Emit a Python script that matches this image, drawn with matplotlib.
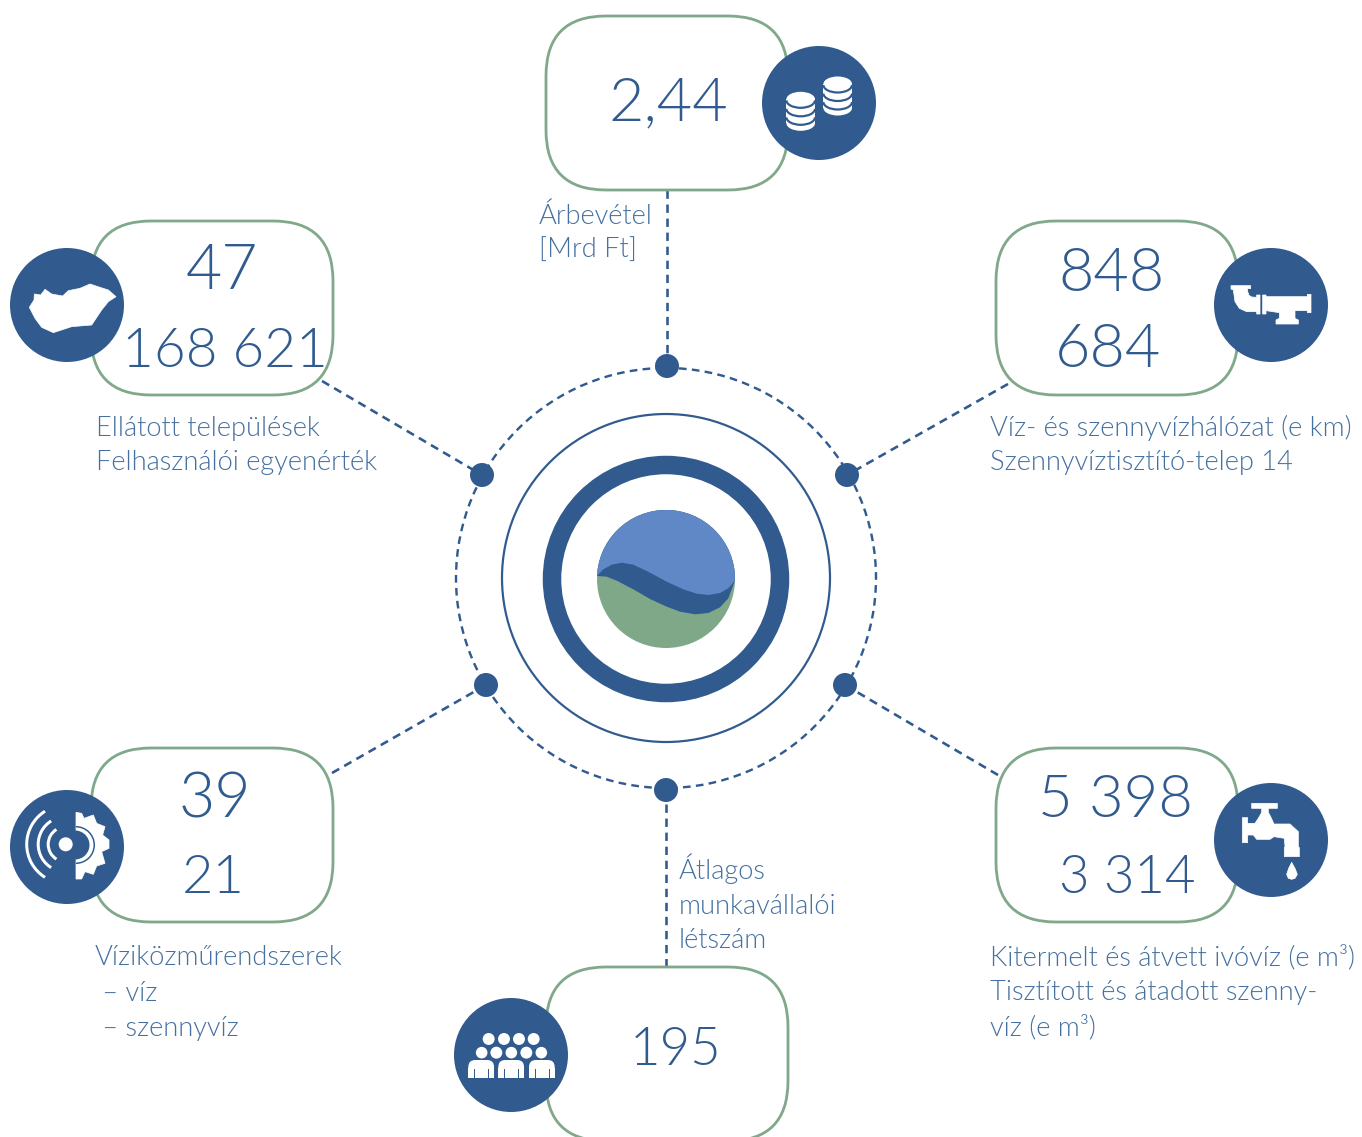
import numpy as np
import matplotlib
matplotlib.use("Agg")
import matplotlib.pyplot as plt
from matplotlib.patches import Circle, FancyBboxPatch, Polygon, Arc, Wedge, Ellipse, Rectangle

# 数值
top_values = ["2,44"]
upper_left_values = ["47", "168 621"]
upper_right_values = ["848", "684"]
lower_left_values = ["39", "21"]
lower_right_values = ["5 398", "3 314"]
bottom_values = ["195"]

# 说明文字
top_labels = ["Árbevétel", "[Mrd Ft]"]
upper_left_labels = ["Ellátott települések", "Felhasználói egyenérték"]
upper_right_labels = ["Víz- és szennyvízhálózat (e km)", "Szennyvíztisztító-telep 14"]
lower_left_labels = ["Víziközműrendszerek", " – víz", " – szennyvíz"]
lower_right_labels = ["Kitermelt és átvett ivóvíz (e m³)", "Tisztított és átadott szenny-", "víz (e m³)"]
bottom_labels = ["Átlagos", "munkavállalói", "létszám"]

DARK = "#315b8f"
GREEN = "#80a88a"
LOGO_BLUE = "#6088c6"
LOGO_GREEN = "#7fa889"
LABEL = "#45709f"
PX = 72 / 100  # 1 px in points
FONT = "Lato"

fig = plt.figure(figsize=(13.62, 11.37), dpi=100)
ax = fig.add_axes([0, 0, 1, 1])
ax.set_xlim(0, 1362)
ax.set_ylim(1137, 0)
ax.axis("off")


def zoom_pts(pts, ox, oy):
    return [(ox + x / 3, oy + y / 3) for x, y in pts]


def white_poly(pts, ox, oy):
    ax.add_patch(Polygon(zoom_pts(pts, ox, oy), closed=True, fc="white", ec="white", lw=0.5, zorder=6, joinstyle="round"))


def dot(x, y, r, color="white", z=6):
    ax.add_patch(Circle((x, y), r, fc=color, ec="none", zorder=z))


# 虚线
dash = (0, (3.2, 2.2))
links = [((667, 190), (667, 366)), ((322, 381), (482, 475)), ((1008, 384), (847, 475)),
         ((332, 773), (486, 685)), ((998, 775), (845, 685)), ((666, 790), (666, 967))]
for a, b in links:
    ax.plot([a[0], b[0]], [a[1], b[1]], color=DARK, lw=2.6 * PX, linestyle=dash, zorder=1)

# 中心圆环
cx, cy = 666, 578
ax.add_patch(Circle((cx, cy), 210, fill=False, ec=DARK, lw=2.4 * PX, linestyle=dash, zorder=2))
ax.add_patch(Circle((cx, cy), 164, fill=False, ec=DARK, lw=2.2 * PX, zorder=2))
ax.add_patch(Circle((cx, cy + 1), 114, fill=False, ec=DARK, lw=18.5 * PX, zorder=2))
for x, y in [(667, 366), (482, 475), (847, 475), (486, 685), (845, 685), (666, 790)]:
    dot(x, y, 12, DARK, 3)

# logo
ax.add_patch(Circle((666, 579), 69, fc=LOGO_GREEN, ec="none", zorder=3))
lo = [(50, 258), (80, 260), (110, 272), (160, 298), (210, 327), (260, 350), (300, 365), (345, 373),
      (385, 369), (420, 352), (445, 325), (465, 272)]
up = [(50, 258), (70, 238), (95, 224), (125, 218), (160, 224), (210, 248), (260, 275), (310, 298),
      (350, 311), (385, 315), (420, 309), (445, 295), (465, 272)]
for curve, col in [(lo, DARK), (up, LOGO_BLUE)]:
    verts = zoom_pts(curve, 580, 490) + [(745, 495), (590, 495)]
    p = Polygon(verts, closed=True, fc=col, ec="none", zorder=4)
    ax.add_patch(p)
    p.set_clip_path(Circle((666, 579), 69, transform=ax.transData))

# 圆角框
for x0, y0 in [(546, 16), (91, 221), (996, 221), (91, 748), (996, 748), (546, 967)]:
    ax.add_patch(FancyBboxPatch((x0, y0), 242, 174, boxstyle="round,pad=0,rounding_size=60",
                                fc="white", ec=GREEN, lw=2.8 * PX, zorder=2, clip_on=True))

# 图标底圆
for x, y in [(819, 103), (67, 305), (1271, 305), (67, 847), (1271, 840), (511, 1055)]:
    dot(x, y, 57, DARK, 5)

# 匈牙利地图
white_poly([(88, 292), (102, 270), (103, 252), (122, 255), (135, 238), (155, 252), (188, 258), (205, 242),
            (240, 235), (270, 222), (300, 232), (325, 240), (348, 260), (325, 275), (305, 300), (275, 345),
            (215, 350), (160, 368), (125, 352), (105, 325)], 0, 210)

# 管道
white_poly([(93, 137), (152, 137), (152, 146), (143, 146), (143, 155), (147, 166), (155, 171), (170, 172), (170, 165),
            (180, 165), (180, 222), (170, 222), (170, 215), (140, 215), (118, 205), (105, 185), (100, 150), (93, 147)],
           1200, 240)
white_poly([(188, 165), (198, 165), (198, 170), (322, 170), (322, 163), (333, 163), (333, 218), (322, 218), (322, 212),
            (285, 212), (285, 235), (295, 240), (295, 252), (228, 252), (228, 240), (238, 235), (238, 218), (198, 212),
            (198, 222), (188, 222)], 1200, 240)

# 水龙头
white_poly([(155, 85), (232, 85), (232, 100), (205, 100), (205, 112), (212, 125), (222, 147), (270, 147), (295, 170),
            (295, 215), (298, 218), (298, 245), (253, 245), (253, 218), (255, 215), (253, 190), (222, 185), (210, 193),
            (170, 193), (160, 180), (143, 180), (143, 203), (127, 203), (127, 128), (143, 128), (143, 145), (165, 145),
            (178, 125), (185, 112), (185, 100), (155, 100)], 1200, 775)
white_poly([(275, 262), (285, 280), (292, 298), (285, 310), (275, 313), (265, 310), (260, 298), (266, 280)], 1200, 775)

# 硬币
for sx, top in [(800.7, 99.3), (837.7, 84)]:
    ax.add_patch(Rectangle((sx - 14.3, top), 28.6, 24, fc="white", ec="none", zorder=6))
    ax.add_patch(Ellipse((sx, top), 28.6, 15, fc="white", ec="none", zorder=6))
    ax.add_patch(Ellipse((sx, top + 24), 28.6, 15, fc="white", ec="none", zorder=6))
    for i in range(3):
        ax.add_patch(Arc((sx, top + 1 + i * 8.5), 28.6, 15, theta1=0, theta2=180, ec=DARK, lw=2.2 * PX, zorder=7))

# 信号和齿轮
dot(65.7, 844.3, 7)
for r in [17.5, 27.5, 39]:
    ax.add_patch(Arc((65.7, 844.3), 2 * r, 2 * r, theta1=122, theta2=238, ec="white", lw=3 * PX, zorder=6))
white_poly([(228, 97), (245, 100), (252, 115), (280, 105), (290, 130), (315, 140), (308, 165), (327, 180), (327, 205),
            (305, 215), (315, 250), (290, 258), (280, 283), (255, 275), (245, 297), (228, 297)], 0, 780)
ax.add_patch(Wedge((76, 845), 19, -90, 90, fc=DARK, ec="none", zorder=7))
ax.add_patch(Wedge((76, 845), 17.5, -90, 90, fc="white", ec="none", zorder=7))
ax.add_patch(Wedge((75, 845), 14.5, -90, 90, fc=DARK, ec="none", zorder=7))

# 人群
for hx, hy, r in [(116, 147, 17), (162, 147, 17), (207, 147, 17), (251, 147, 17), (139, 188, 17), (229, 188, 17)]:
    dot(450 + hx / 3, 990 + hy / 3, r / 3 + 0.3)
for hx in [95, 184, 274]:
    dot(450 + hx / 3, 990 + 188 / 3, 6.3, DARK, 6)
    dot(450 + hx / 3, 990 + 188 / 3, 5.8)
for bx in [55, 145, 237]:
    x0, y0 = 450 + bx / 3, 990 + 210 / 3
    ax.add_patch(FancyBboxPatch((x0, y0), 25.7, 17.5, boxstyle="round,pad=0,rounding_size=7", fc="white", ec="none", zorder=6))
    ax.add_patch(Rectangle((x0, y0 + 8), 25.7, 9.5, fc="white", ec="none", zorder=6))
    for off in [5.8, 20]:
        ax.plot([x0 + off, x0 + off], [y0 + 9, y0 + 17.5], color=DARK, lw=1.0 * PX, zorder=7)

# 数字（Lato 的 1 比原图宽，带 1 的数字字号略小）
number_sets = [(top_values, [668], [120], [44]), (upper_left_values, [222, 225], [289, 367], [45, 39.5]),
               (upper_right_values, [1111, 1108], [291, 367], [44, 44]), (lower_left_values, [215, 213], [817, 893], [45, 39]),
               (lower_right_values, [1116, 1127], [817, 893], [43, 38]), (bottom_values, [676], [1065], [38])]
for vals, xs, ys, sizes in number_sets:
    for v, x, y, fs in zip(vals, xs, ys, sizes):
        ax.text(x, y, v, ha="center", va="baseline", fontsize=fs, color=DARK,
                family=FONT, weight=300, zorder=8)

# 文字
label_size = 19.6
label_sets = [(top_labels, 539, [224, 258]), (upper_left_labels, 96, [436, 470]),
              (upper_right_labels, 990, [436, 470]), (lower_left_labels, 95, [965, 1001, 1036]),
              (lower_right_labels, 990, [965, 1000, 1035]), (bottom_labels, 679, [879, 914, 948])]
for lines, x, ys in label_sets:
    for s, y in zip(lines, ys):
        ax.text(x, y, s, ha="left", va="baseline", fontsize=label_size, color=LABEL,
                family=FONT, weight=300, zorder=8)

fig.savefig("out.png", dpi=100, facecolor="white")
